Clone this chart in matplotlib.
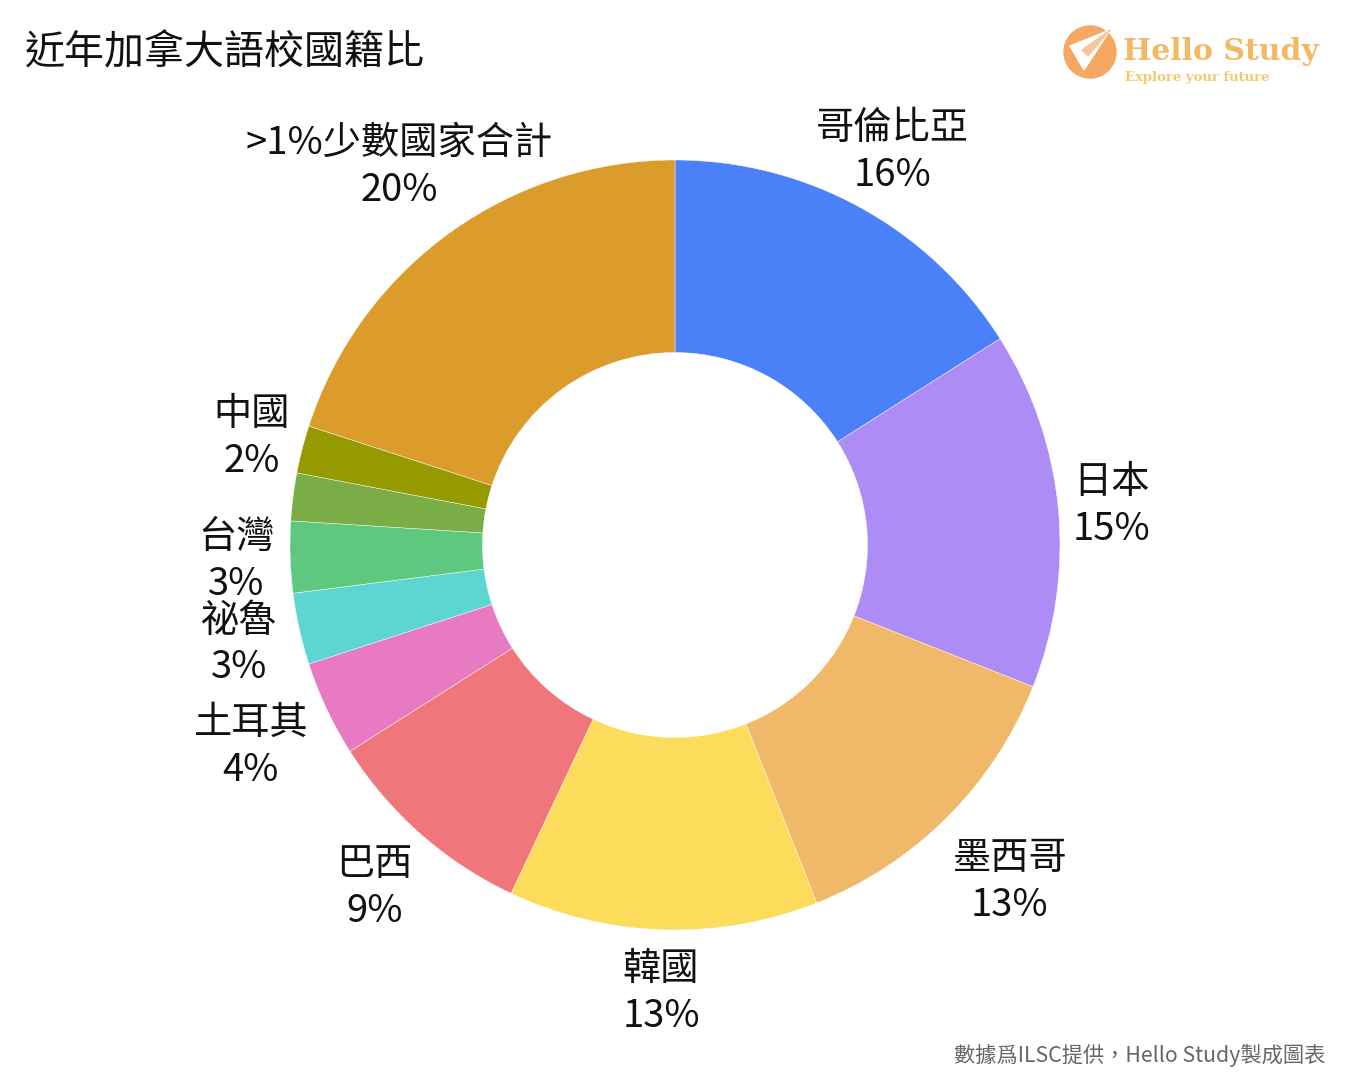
import numpy as np
import matplotlib
matplotlib.use('Agg')
from matplotlib import pyplot as plt
from matplotlib.patches import Circle, Polygon

plt.rcParams['font.family'] = ['Noto Sans CJK TC', 'DejaVu Sans']

# data, clockwise from the top
countries = ['哥倫比亞', '日本', '墨西哥', '韓國', '巴西', '土耳其',
             '祕魯', '台灣', '', '中國', '>1%少數國家合計']
shares = [16, 15, 13, 13, 9, 4, 3, 3, 2, 2, 20]
colors = ['#4a80f8', '#ae8cf5', '#f0b96a', '#fddc5c', '#ef767a', '#e87ac4',
          '#5dd6d2', '#5ec97e', '#7aad45', '#959a00', '#dc9c2c']

# how far out each label sits, in outer radii
label_r = [1.17, 1.14, 1.23, 1.16, 1.18, 1.22, 1.16, 1.14, 1.14, 1.135, 1.22]

W, H = 1350, 1080
fig = plt.figure(figsize=(W / 100, H / 100), dpi=100)
ax = fig.add_axes([0, 0, 1, 1])

cx, cy, R = 675, H - 545, 385
ax.pie(shares, colors=colors, startangle=90, counterclock=False,
       center=(cx, cy), radius=R, frame=True,
       wedgeprops=dict(width=R * 0.5, edgecolor='white', linewidth=0.3))
ax.set_xlim(0, W)
ax.set_ylim(0, H)
ax.set_aspect('equal')
ax.axis('off')

total = sum(shares)
start = 0
for name, val, k in zip(countries, shares, label_r):
    mid = (start + val / 2) / total * 2 * np.pi
    start += val
    if not name:
        continue
    x = cx + k * R * np.sin(mid)
    y = cy + k * R * np.cos(mid)
    ax.text(x, y - 2, f'{name}\n{val}%', ha='center', va='center',
            fontsize=27.5, linespacing=1.26, color='#111111')

ax.text(25, H - 53, '近年加拿大語校國籍比', fontsize=28.8, ha='left',
        va='center', color='#111111')
ax.text(1325, 25, '數據爲ILSC提供，Hello Study製成圖表', fontsize=15.3,
        ha='right', va='center', color='#666666')

# logo
lx, ly = 1090, H - 52
ax.add_patch(Circle((lx, ly), 26, color='#f5a862', zorder=3))
ax.add_patch(Polygon([(lx - 20, ly + 6), (lx + 20, ly + 22), (lx - 6, ly - 18)],
                     closed=True, color='white', zorder=4))
ax.add_patch(Polygon([(lx - 8, ly + 2), (lx + 20, ly + 22), (lx - 2, ly - 4)],
                     closed=True, color='#f5c79a', zorder=5))
ax.text(1123, H - 52, 'Hello Study', fontsize=21.5, fontweight='bold',
        family='DejaVu Serif', color='#f3b862', ha='left', va='center')
ax.text(1125, H - 78, 'Explore your future', fontsize=9.5, fontweight='bold',
        family='DejaVu Serif', color='#f5c96a', ha='left', va='center')

fig.savefig('out.png', dpi=100, facecolor='white')
